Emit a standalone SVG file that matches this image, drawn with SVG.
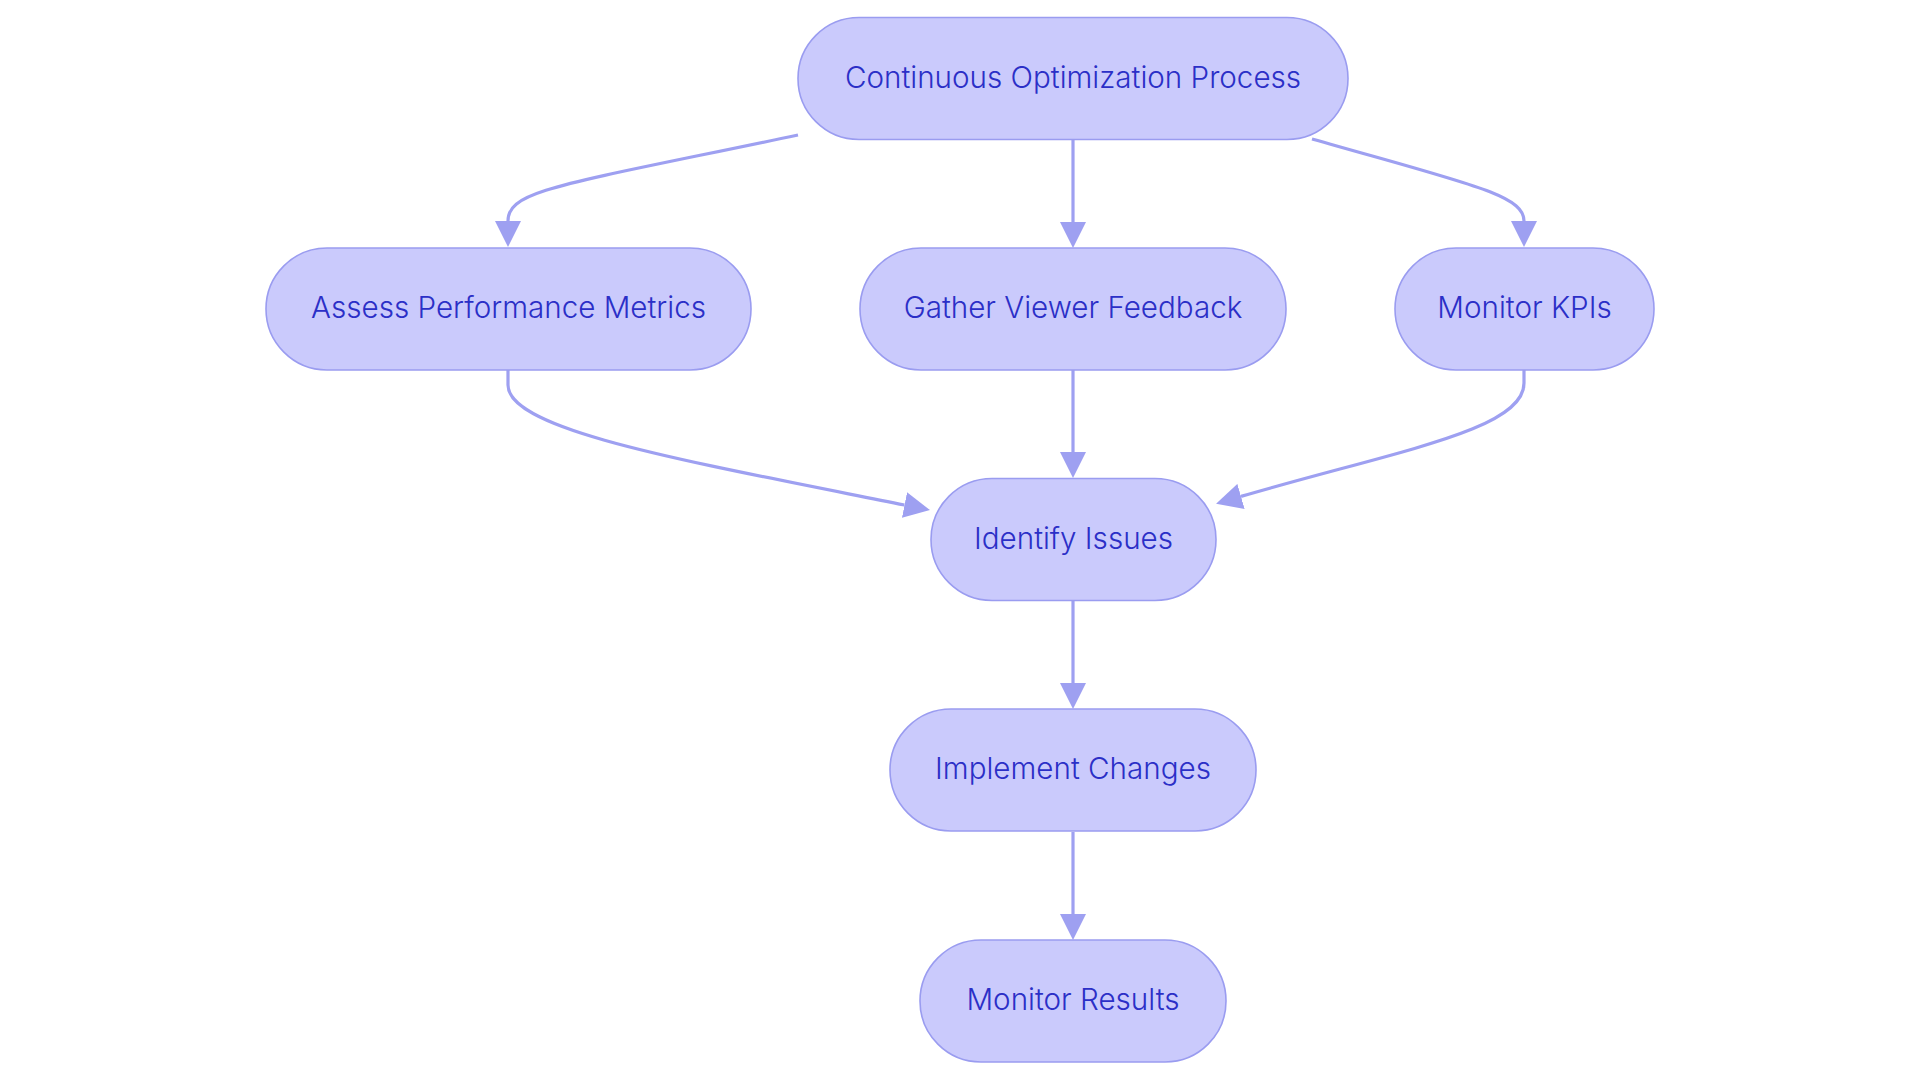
<svg xmlns="http://www.w3.org/2000/svg" width="1920" height="1083" viewBox="0 0 1920 1083">
<style>
.node rect{fill:#cacafc;stroke:#9a9cf0;stroke-width:1.6}
.node text{font-family:Inter,"Noto Sans",sans-serif;font-size:29.6px;font-weight:300;fill:#2b2fc7;text-anchor:middle}
.edge{fill:none;stroke:#9ea0f1;stroke-width:3.2}
</style>
<defs>
<marker id="arrow" markerUnits="userSpaceOnUse" viewBox="0 0 10 10" refX="0" refY="5" markerWidth="26" markerHeight="26" orient="auto">
<path d="M0,0 L10,5 L0,10 z" fill="#9ea0f1"/>
</marker>
</defs>
<rect width="1920" height="1083" fill="#ffffff"/>
<g id="connectors">
<path class="edge" d="M798,135 C560,185 508,190 508,221" marker-end="url(#arrow)"/>
<path class="edge" d="M1073,139 L1073,222" marker-end="url(#arrow)"/>
<path class="edge" d="M1312,139 C1470,184 1524,195 1524,221" marker-end="url(#arrow)"/>
<path class="edge" d="M508,370 L508,385 C508,430 680,460 904.5,505" marker-end="url(#arrow)"/>
<path class="edge" d="M1073,370 L1073,452" marker-end="url(#arrow)"/>
<path class="edge" d="M1524,370 L1524,383 C1524,430 1400,450 1241,496.4" marker-end="url(#arrow)"/>
<path class="edge" d="M1073,601 L1073,683" marker-end="url(#arrow)"/>
<path class="edge" d="M1073,832 L1073,914" marker-end="url(#arrow)"/>
</g>
<g id="node-process" class="node">
<rect x="798" y="17.5" width="550" height="122" rx="61" ry="61"/>
<text x="1073" y="87.5">Continuous Optimization Process</text>
</g>
<g id="node-assess" class="node">
<rect x="266" y="248" width="485" height="122" rx="61" ry="61"/>
<text x="508.5" y="318">Assess Performance Metrics</text>
</g>
<g id="node-gather" class="node">
<rect x="860" y="248" width="426" height="122" rx="61" ry="61"/>
<text x="1073" y="318">Gather Viewer Feedback</text>
</g>
<g id="node-kpis" class="node">
<rect x="1395" y="248" width="259" height="122" rx="61" ry="61"/>
<text x="1524.5" y="318">Monitor KPIs</text>
</g>
<g id="node-identify" class="node">
<rect x="931" y="478.5" width="285" height="122" rx="61" ry="61"/>
<text x="1073.5" y="548.5">Identify Issues</text>
</g>
<g id="node-implement" class="node">
<rect x="890" y="709" width="366" height="122" rx="61" ry="61"/>
<text x="1073" y="779">Implement Changes</text>
</g>
<g id="node-results" class="node">
<rect x="920" y="940" width="306" height="122" rx="61" ry="61"/>
<text x="1073" y="1010">Monitor Results</text>
</g>
</svg>
